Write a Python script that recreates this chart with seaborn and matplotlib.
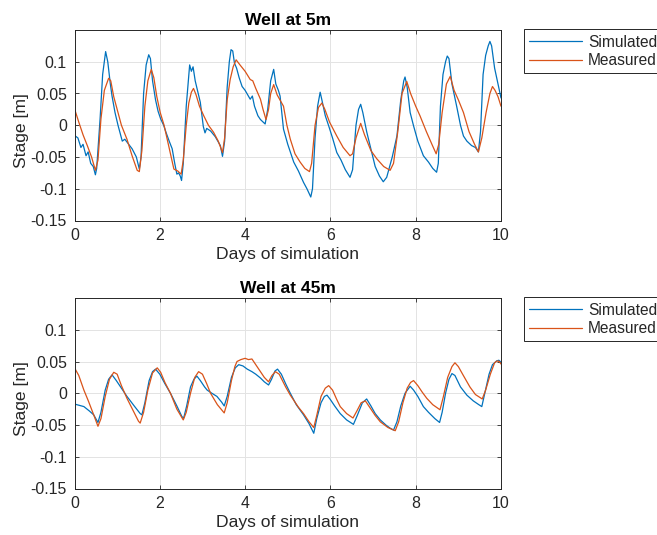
import numpy as np
import pandas as pd
import matplotlib
matplotlib.use("Agg")
import matplotlib.pyplot as plt
import seaborn as sns

# ---- Well at 5 m -------------------------------------------------------
sim5_day = [0.00, 0.08, 0.15, 0.20, 0.27, 0.32, 0.38, 0.44, 0.49, 0.52, 0.60, 0.66,
            0.73, 0.78, 0.84, 0.88, 0.95, 1.02, 1.12, 1.18, 1.27, 1.35, 1.45, 1.52,
            1.56, 1.62, 1.68, 1.74, 1.78, 1.83, 1.90, 1.96, 2.02, 2.09, 2.15, 2.22,
            2.29, 2.35, 2.40, 2.44, 2.48, 2.51, 2.55, 2.62, 2.70, 2.74, 2.78, 2.83,
            2.95, 3.02, 3.06, 3.10, 3.19, 3.30, 3.42, 3.47, 3.52, 3.58, 3.63, 3.67,
            3.71, 3.75, 3.80, 3.86, 3.93, 4.00, 4.12, 4.17, 4.22, 4.30, 4.36, 4.47,
            4.53, 4.60, 4.67, 4.72, 4.78, 4.82, 4.90, 5.00, 5.14, 5.25, 5.37, 5.45,
            5.54, 5.58, 5.64, 5.70, 5.76, 5.80, 5.88, 5.96, 6.05, 6.15, 6.25, 6.35,
            6.46, 6.52, 6.60, 6.66, 6.71, 6.76, 6.85, 6.93, 7.05, 7.15, 7.24, 7.32,
            7.45, 7.56, 7.65, 7.72, 7.75, 7.80, 7.87, 7.95, 8.05, 8.18, 8.30, 8.40,
            8.49, 8.53, 8.58, 8.64, 8.70, 8.74, 8.78, 8.85, 8.96, 9.05, 9.12, 9.20,
            9.31, 9.40, 9.47, 9.52, 9.58, 9.64, 9.70, 9.74, 9.78, 9.85, 9.92, 10.00]
sim5_stage = [-0.016, -0.020, -0.035, -0.030, -0.048, -0.042, -0.060, -0.065, -0.078,
              -0.068, 0.010, 0.080, 0.116, 0.100, 0.065, 0.046, 0.020, 0.000, -0.025,
              -0.022, -0.030, -0.037, -0.050, -0.069, -0.050, 0.050, 0.095, 0.111,
              0.105, 0.070, 0.040, 0.022, 0.010, 0.000, -0.012, -0.025, -0.037, -0.060,
              -0.077, -0.075, -0.080, -0.087, -0.060, 0.030, 0.095, 0.085, 0.092, 0.070,
              0.036, -0.002, -0.012, -0.005, -0.009, -0.018, -0.032, -0.049, -0.025,
              0.060, 0.100, 0.119, 0.117, 0.098, 0.090, 0.075, 0.061, 0.055, 0.041,
              0.046, 0.030, 0.015, 0.009, 0.002, 0.025, 0.070, 0.088, 0.065, 0.055,
              0.046, -0.006, -0.030, -0.058, -0.072, -0.090, -0.100, -0.113, -0.100,
              -0.020, 0.030, 0.052, 0.040, 0.015, -0.001, -0.020, -0.043, -0.055,
              -0.070, -0.082, -0.070, 0.000, 0.025, 0.033, 0.020, -0.010, -0.032,
              -0.065, -0.080, -0.089, -0.082, -0.050, -0.017, 0.040, 0.070, 0.076,
              0.060, 0.020, -0.001, -0.025, -0.048, -0.058, -0.068, -0.074, -0.060,
              0.030, 0.080, 0.100, 0.109, 0.105, 0.065, 0.030, 0.000, -0.017, -0.025,
              -0.032, -0.035, -0.042, -0.010, 0.080, 0.110, 0.125, 0.132, 0.125,
              0.090, 0.068, 0.043]

meas5_day = [0.00, 0.10, 0.20, 0.30, 0.40, 0.49, 0.55, 0.62, 0.70, 0.80, 0.85, 0.92,
             1.00, 1.10, 1.23, 1.35, 1.47, 1.52, 1.58, 1.65, 1.72, 1.80, 1.86, 1.93,
             2.01, 2.10, 2.20, 2.33, 2.42, 2.50, 2.55, 2.62, 2.68, 2.74, 2.79, 2.85,
             2.93, 3.03, 3.14, 3.26, 3.37, 3.47, 3.52, 3.58, 3.65, 3.72, 3.79, 3.88,
             4.00, 4.12, 4.18, 4.25, 4.36, 4.42, 4.49, 4.55, 4.60, 4.67, 4.75, 4.90,
             4.98, 5.06, 5.17, 5.29, 5.40, 5.51, 5.56, 5.64, 5.72, 5.80, 5.87, 5.98,
             6.15, 6.30, 6.46, 6.52, 6.60, 6.71, 6.80, 6.95, 7.09, 7.25, 7.40, 7.48,
             7.58, 7.68, 7.79, 7.88, 8.00, 8.10, 8.25, 8.38, 8.48, 8.54, 8.62, 8.72,
             8.81, 8.90, 9.00, 9.12, 9.25, 9.38, 9.47, 9.55, 9.65, 9.74, 9.80, 9.86,
             9.93, 10.00]
meas5_stage = [0.026, 0.005, -0.015, -0.032, -0.050, -0.071, -0.055, 0.010, 0.055,
               0.074, 0.070, 0.045, 0.025, 0.000, -0.022, -0.048, -0.071, -0.073,
               -0.040, 0.030, 0.070, 0.088, 0.075, 0.045, 0.020, 0.000, -0.030,
               -0.069, -0.072, -0.077, -0.055, 0.000, 0.035, 0.052, 0.058, 0.048,
               0.030, 0.015, 0.000, -0.011, -0.025, -0.043, -0.020, 0.040, 0.072,
               0.092, 0.103, 0.095, 0.085, 0.072, 0.070, 0.058, 0.041, 0.025, 0.009,
               0.025, 0.050, 0.064, 0.048, 0.030, 0.000, -0.022, -0.045, -0.058,
               -0.068, -0.073, -0.060, 0.000, 0.028, 0.035, 0.025, 0.005, -0.017,
               -0.035, -0.048, -0.045, -0.020, 0.003, -0.015, -0.040, -0.053, -0.065,
               -0.071, -0.060, -0.010, 0.050, 0.069, 0.050, 0.030, 0.015, -0.010,
               -0.030, -0.045, -0.030, 0.020, 0.065, 0.077, 0.055, 0.040, 0.020,
               -0.010, -0.030, -0.042, -0.020, 0.020, 0.050, 0.061, 0.055, 0.045, 0.030]

# ---- Well at 45 m ------------------------------------------------------
sim45_day = [0.00, 0.22, 0.35, 0.45, 0.55, 0.62, 0.72, 0.80, 0.88, 0.98, 1.10, 1.23,
             1.40, 1.54, 1.58, 1.65, 1.75, 1.83, 1.90, 2.00, 2.12, 2.25, 2.40, 2.52,
             2.56, 2.63, 2.72, 2.80, 2.87, 2.95, 3.05, 3.11, 3.22, 3.34, 3.45, 3.51,
             3.58, 3.68, 3.77, 3.85, 3.95, 4.05, 4.16, 4.25, 4.36, 4.45, 4.55, 4.62,
             4.70, 4.76, 4.85, 4.95, 5.06, 5.20, 5.37, 5.50, 5.61, 5.68, 5.78, 5.86,
             5.92, 6.00, 6.10, 6.23, 6.38, 6.54, 6.63, 6.75, 6.85, 6.95, 7.05, 7.17,
             7.30, 7.40, 7.48, 7.56, 7.65, 7.75, 7.87, 7.95, 8.05, 8.18, 8.30, 8.45,
             8.56, 8.62, 8.70, 8.78, 8.85, 8.92, 9.05, 9.20, 9.35, 9.48, 9.55, 9.62,
             9.72, 9.80, 9.90, 9.95, 10.00]
sim45_stage = [-0.017, -0.021, -0.028, -0.034, -0.046, -0.030, 0.005, 0.022, 0.029,
               0.020, 0.008, -0.005, -0.020, -0.032, -0.034, -0.015, 0.020, 0.034,
               0.038, 0.030, 0.015, 0.000, -0.020, -0.037, -0.039, -0.020, 0.010,
               0.022, 0.027, 0.020, 0.010, 0.005, 0.000, -0.005, -0.014, -0.020,
               -0.005, 0.025, 0.040, 0.045, 0.043, 0.038, 0.034, 0.030, 0.024, 0.018,
               0.013, 0.022, 0.035, 0.038, 0.030, 0.015, 0.000, -0.018, -0.034,
               -0.048, -0.063, -0.040, -0.015, -0.005, -0.003, -0.010, -0.020, -0.032,
               -0.042, -0.049, -0.035, -0.015, -0.009, -0.020, -0.032, -0.042, -0.050,
               -0.055, -0.058, -0.045, -0.020, 0.000, 0.011, 0.005, -0.005, -0.021,
               -0.030, -0.040, -0.046, -0.030, 0.000, 0.022, 0.031, 0.028, 0.010,
               -0.003, -0.012, -0.018, -0.021, 0.000, 0.030, 0.045, 0.051, 0.052, 0.049]

meas45_day = [0.00, 0.10, 0.22, 0.33, 0.45, 0.55, 0.62, 0.72, 0.82, 0.92, 1.00, 1.10,
              1.23, 1.38, 1.50, 1.54, 1.62, 1.72, 1.83, 1.94, 2.02, 2.12, 2.25, 2.40,
              2.55, 2.62, 2.72, 2.82, 2.91, 3.00, 3.10, 3.19, 3.35, 3.51, 3.58, 3.68,
              3.76, 3.81, 3.90, 4.00, 4.08, 4.16, 4.25, 4.36, 4.45, 4.55, 4.63, 4.71,
              4.80, 4.95, 5.06, 5.14, 5.25, 5.37, 5.50, 5.61, 5.68, 5.78, 5.88, 5.96,
              6.05, 6.15, 6.23, 6.38, 6.53, 6.62, 6.72, 6.82, 6.95, 7.05, 7.17, 7.35,
              7.52, 7.60, 7.70, 7.80, 7.88, 7.95, 8.05, 8.15, 8.26, 8.40, 8.57, 8.65,
              8.75, 8.85, 8.92, 9.00, 9.10, 9.27, 9.40, 9.56, 9.64, 9.75, 9.85, 9.91,
              9.96, 10.00]
meas45_stage = [0.040, 0.028, 0.005, -0.013, -0.034, -0.052, -0.040, -0.005, 0.022,
                0.033, 0.030, 0.012, -0.008, -0.028, -0.044, -0.047, -0.030, 0.005,
                0.032, 0.040, 0.033, 0.017, 0.000, -0.025, -0.042, -0.030, 0.000,
                0.025, 0.034, 0.030, 0.015, 0.000, -0.018, -0.031, -0.015, 0.020,
                0.042, 0.050, 0.053, 0.055, 0.053, 0.054, 0.045, 0.034, 0.025, 0.018,
                0.028, 0.034, 0.030, 0.010, -0.003, -0.011, -0.022, -0.032, -0.045,
                -0.054, -0.035, -0.005, 0.008, 0.012, 0.005, -0.010, -0.021, -0.032,
                -0.039, -0.028, -0.015, -0.012, -0.025, -0.035, -0.045, -0.054, -0.059,
                -0.045, -0.015, 0.008, 0.017, 0.020, 0.012, 0.002, -0.008, -0.018,
                -0.026, -0.005, 0.025, 0.042, 0.048, 0.042, 0.030, 0.010, -0.002,
                -0.009, 0.005, 0.030, 0.048, 0.051, 0.050, 0.046]

series_names = ["Simulated", "Measured"]
titles = ["Well at 5m", "Well at 45m"]
x_ticks = [0, 2, 4, 6, 8, 10]
y_ticks = [-0.15, -0.1, -0.05, 0, 0.05, 0.1]
y_tick_labels = ["-0.15", "-0.1", "-0.05", "0", "0.05", "0.1"]


def frame(sim_day, sim_stage, meas_day, meas_stage):
    return pd.concat([
        pd.DataFrame({"day": sim_day, "stage": sim_stage, "series": series_names[0]}),
        pd.DataFrame({"day": meas_day, "stage": meas_stage, "series": series_names[1]}),
    ], ignore_index=True)


wells = [frame(sim5_day, sim5_stage, meas5_day, meas5_stage),
         frame(sim45_day, sim45_stage, meas45_day, meas45_stage)]

sns.set_style("white")
plt.rcParams["font.family"] = ["Liberation Sans", "DejaVu Sans"]
plt.rcParams["axes.unicode_minus"] = False

ink = "#262626"
palette = {"Simulated": "#0072BD", "Measured": "#D95319"}

fig = plt.figure(figsize=(6.57, 5.35), dpi=100)
W, H = 657, 535
boxes = [(74.5, 30, 501, 220.5), (74.5, 298, 501, 488.5)]

for (x0, y0, x1, y1), data, title in zip(boxes, wells, titles):
    ax = fig.add_axes([x0 / W, 1 - y1 / H, (x1 - x0) / W, (y1 - y0) / H])
    sns.lineplot(data=data, x="day", y="stage", hue="series", palette=palette,
                 hue_order=series_names, estimator=None, sort=False,
                 linewidth=0.9, ax=ax, legend=False)
    ax.set_xlim(0, 10)
    ax.set_ylim(-0.15, 0.15)
    ax.set_xticks(x_ticks)
    ax.set_yticks(y_ticks)
    ax.set_yticklabels(y_tick_labels)
    ax.grid(True, color="#e3e3e3", linewidth=0.7)
    ax.set_axisbelow(True)
    for sp in ax.spines.values():
        sp.set_visible(True)
        sp.set_color(ink)
        sp.set_linewidth(0.7)
    ax.tick_params(direction="in", length=3.2, width=0.6, color=ink,
                   labelcolor=ink, labelsize=11.4, pad=5.5,
                   top=True, right=True, bottom=True, left=True)
    ax.set_title(title, fontsize=12.6, fontweight="bold", color="black", pad=3.5)
    ax.set_xlabel("Days of simulation", fontsize=12.6, color=ink, labelpad=3)
    ax.set_ylabel("Stage [m]", fontsize=12.6, color=ink, labelpad=3)
    ax.yaxis.set_label_coords(-0.107, 0.47)
    leg = ax.legend(handles=ax.lines[:2], labels=series_names,
                    loc="upper left", bbox_to_anchor=(524 / W, 1 - y0 / H + 0.001),
                    bbox_transform=fig.transFigure, fontsize=11.2,
                    frameon=True, fancybox=False, framealpha=1,
                    edgecolor=ink, handlelength=3.4, handletextpad=0.35,
                    borderpad=0.35, labelspacing=0.2, borderaxespad=0)
    leg.get_frame().set_linewidth(0.7)
    for t in leg.get_texts():
        t.set_color(ink)

fig.savefig("out.png", dpi=100)
